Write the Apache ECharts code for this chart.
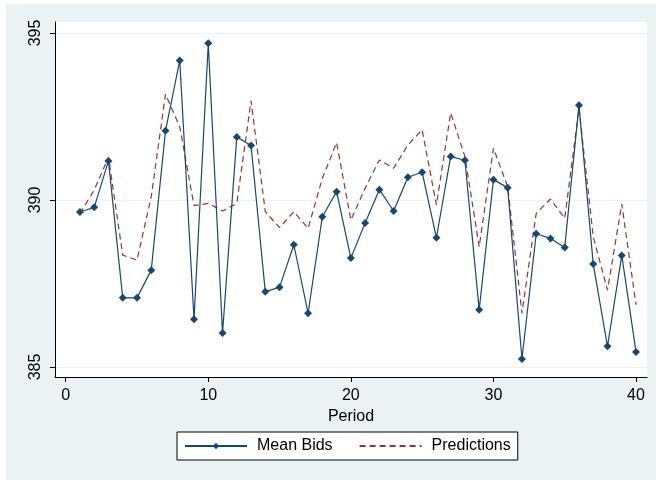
<!DOCTYPE html>
<html>
<head>
<meta charset="utf-8">
<script src="https://cdn.jsdelivr.net/npm/echarts@6/dist/echarts.min.js"></script>
<style>
html,body{margin:0;padding:0;background:#ffffff;}
#c{width:656px;height:480px;}
</style>
</head>
<body>
<div id="c"></div>
<script>
const periods = [1,2,3,4,5,6,7,8,9,10,11,12,13,14,15,16,17,18,19,20,21,22,23,24,25,26,27,28,29,30,31,32,33,34,35,36,37,38,39,40];
const meanBids = [389.64,389.78,391.17,387.07,387.07,387.90,392.07,394.18,386.43,394.69,
                  386.02,391.89,391.63,387.25,387.39,388.66,386.61,389.50,390.25,388.26,
                  389.31,390.31,389.67,390.68,390.83,388.87,391.30,391.19,386.71,390.61,
                  390.37,385.24,388.99,388.85,388.58,392.84,388.08,385.62,388.34,385.45];
const predictions = [389.60,390.30,391.28,388.35,388.20,390.10,393.17,392.19,389.83,389.90,
                     389.67,389.90,392.97,389.65,389.17,389.65,389.15,390.65,391.72,389.40,
                     390.35,391.20,390.95,391.65,392.10,389.85,392.61,391.30,388.60,391.55,
                     390.40,386.61,389.60,390.03,389.45,392.74,388.90,387.30,389.88,386.86];
const xTicks = [0,10,20,30,40];
const yTicks = [385,390,395];

const navy = '#1a476f';
const maroon = '#90353b';
const bg = '#eaf2f3';

const chart = echarts.init(document.getElementById('c'), null, {renderer:'canvas'});
chart.setOption({
  backgroundColor: '#ffffff',
  animation: false,
  textStyle: {fontFamily: 'Liberation Sans, Arial, sans-serif'},
  graphic: [{
    type: 'rect', z: -10, silent: true,
    shape: {x: 6, y: 4, width: 650, height: 476},
    style: {fill: bg}
  }],
  grid: {left: 55, right: 9, top: 22, bottom: 103, show: true, backgroundColor: '#ffffff', borderWidth: 0},
  xAxis: {
    type: 'value', min: -0.75, max: 40.77,
    name: 'Period', nameLocation: 'middle', nameGap: 26,
    nameTextStyle: {color: '#000', fontSize: 16, fontFamily: 'Liberation Sans, Arial, sans-serif'},
    axisLine: {show: true, onZero: false, lineStyle: {color: '#000', width: 1}},
    axisTick: {show: true, length: 5, lineStyle: {color: '#000'}, customValues: xTicks},
    axisLabel: {color: '#000', fontSize: 16, margin: 11, customValues: xTicks},
    splitLine: {show: false}
  },
  yAxis: {
    type: 'value', min: 384.7, max: 395.33,
    axisLine: {show: true, onZero: false, lineStyle: {color: '#000', width: 1}},
    axisTick: {show: true, length: 5, lineStyle: {color: '#000'}, customValues: yTicks},
    axisLabel: {color: '#000', fontSize: 16, rotate: 90, margin: 11, customValues: yTicks},
    splitLine: {show: true, lineStyle: {color: bg, width: 1}}
  },
  legend: {
    left: 177, top: 432,
    orient: 'horizontal',
    backgroundColor: '#ffffff', borderColor: '#000', borderWidth: 1,
    padding: [6, 7, 6, 7],
    itemWidth: 62, itemHeight: 8, itemGap: 26,
    textStyle: {color: '#000', fontSize: 16, padding: [0, 0, 0, 5]},
    data: [
      {name: 'Mean Bids'},
      {name: 'Predictions', itemStyle: {opacity: 0}}
    ]
  },
  series: [
    {
      name: 'Mean Bids', type: 'line',
      data: periods.map((p, i) => [p, meanBids[i]]),
      symbol: 'diamond', symbolSize: 8, showAllSymbol: true,
      itemStyle: {color: navy},
      lineStyle: {color: navy, width: 1.2},
      z: 3
    },
    {
      name: 'Predictions', type: 'line',
      data: periods.map((p, i) => [p, predictions[i]]),
      symbol: 'none',
      itemStyle: {color: maroon},
      lineStyle: {color: maroon, width: 1.2, type: [6, 4]},
      z: 2
    }
  ]
});
</script>
</body>
</html>
